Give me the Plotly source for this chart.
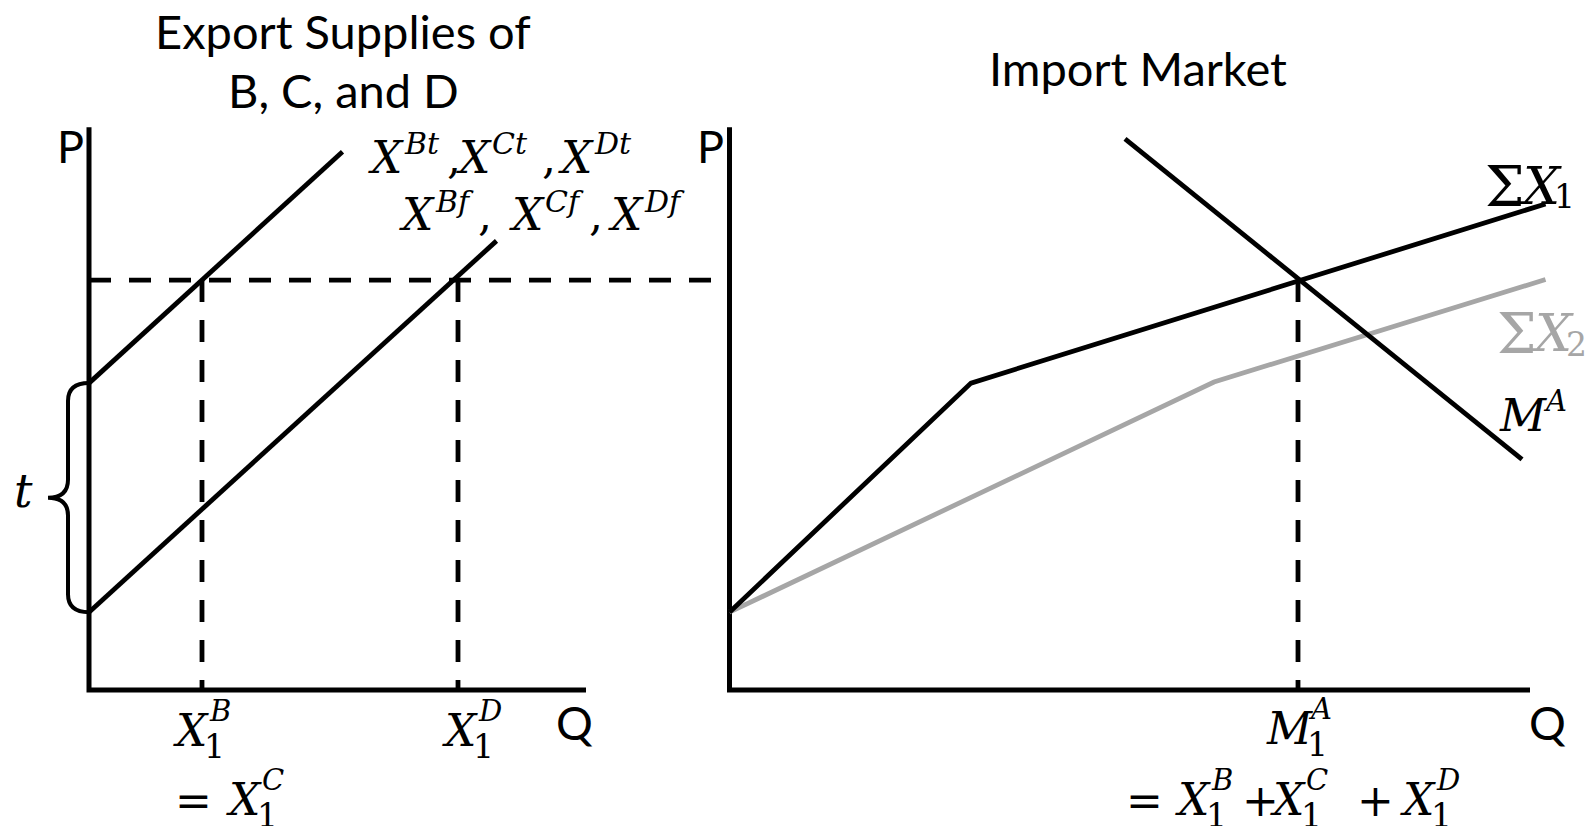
import plotly.graph_objects as go

# ---------------- data (economic units: Q horizontal, P vertical) ----------------
# Left panel: export supplies of B, C, D
upper_q = [0.0, 5.07]          # X^{Bt}, X^{Ct}, X^{Dt}  (with tariff)
upper_p = [5.48, 9.61]
lower_q = [0.0, 8.15]          # X^{Bf}, X^{Cf}, X^{Df}  (free trade)
lower_p = [1.39, 8.02]
P1 = 7.32                      # price level
XB1 = 2.26                     # X1^B = X1^C
XD1 = 7.38                     # X1^D
left_axis_q = [0.0, 0.0, 9.94]
left_axis_p = [10.05, 0.0, 0.0]

# Right panel: import market
sx1_q = [0.0, 4.83, 16.32]     # sum X1
sx1_p = [1.39, 5.48, 8.68]
sx2_q = [0.0, 9.69, 16.32]     # sum X2
sx2_p = [1.39, 5.50, 7.33]
ma_q = [7.91, 15.85]           # import demand M^A
ma_p = [9.84, 4.12]
MA1 = 11.37                    # M1^A
right_axis_q = [0.0, 0.0, 16.01]
right_axis_p = [10.05, 0.0, 0.0]

# ---------------- layout geometry ----------------
W, H = 1589, 826
ORIG_L, ORIG_R, ORIG_Y = 89.0, 729.5, 690.0     # origins in figure px
QU, PU = 50.0, 56.0

BLACK = "#000000"
GRAY = "#a6a6a6"
LW = 4.8
DASH = "22px,18px"
SANS = "Lato"
MATH = "DejaVu Serif"

fig = go.Figure()

def line(xs, ys, xa, color=BLACK, width=LW, dash=None):
    fig.add_trace(go.Scatter(x=xs, y=ys, xaxis=xa, yaxis="y", mode="lines",
                             line=dict(color=color, width=width, dash=dash),
                             hoverinfo="skip", showlegend=False))

# axes
line(left_axis_q, left_axis_p, "x", width=5)
line(right_axis_q, right_axis_p, "x2", width=5)

# dashed guides
line([XB1, XB1], [P1, 0], "x", dash=DASH)
line([XD1, XD1], [P1, 0], "x", dash=DASH)
line([MA1, MA1], [P1, 0], "x2", dash=DASH)

# supply / demand curves
line(upper_q, upper_p, "x")
line(lower_q, lower_p, "x")
line(sx2_q, sx2_p, "x2", color=GRAY)
line(sx1_q, sx1_p, "x2")
line(ma_q, ma_p, "x2")

# horizontal dashed price line spanning both panels (from left origin to right origin)
fig.add_shape(type="line", xref="paper", yref="y",
              x0=ORIG_L / W, x1=ORIG_R / W, y0=P1, y1=P1,
              line=dict(color=BLACK, width=LW, dash=DASH), layer="below")

# brace for tariff t between the two intercepts
pt, pb = upper_p[0], lower_p[0]
pm = (pt + pb) / 2
xi, xt = -0.42, -0.82
path = (f"M 0,{pt} Q {xi},{pt} {xi},{pt-0.32} L {xi},{pm+0.32} "
        f"Q {xi},{pm} {xt},{pm} Q {xi},{pm} {xi},{pm-0.32} "
        f"L {xi},{pb+0.32} Q {xi},{pb} 0,{pb}")
fig.add_shape(type="path", xref="x", yref="y", path=path,
              line=dict(color=BLACK, width=4))

# ---------------- text (positions in figure pixels) ----------------
ann = []
def txt(s, x, y, size, color=BLACK, family=MATH, anchor="left"):
    ann.append(dict(text=s, x=x / W, y=1 - y / H,
                    xref="paper", yref="paper",
                    xanchor=anchor, yanchor="middle", showarrow=False,
                    font=dict(size=size, color=color, family=family)))

def I(s):
    return f"<i>{s}</i>"

# titles and axis letters
txt("Export Supplies of", 343, 31, 47, family=SANS, anchor="center")
txt("B, C, and D", 343, 90, 47, family=SANS, anchor="center")
txt("Import Market", 1138, 68, 47, family=SANS, anchor="center")
txt("P", 70, 146, 45, family=SANS, anchor="center")
txt("P", 710, 146, 45, family=SANS, anchor="center")
txt("Q", 574, 722, 46, family=SANS, anchor="center")
txt("Q", 1547, 722, 46, family=SANS, anchor="center")

# t
txt(I("t"), 12, 491, 46)

# X^{Bt}, X^{Ct}, X^{Dt}   and   X^{Bf}, X^{Cf}, X^{Df}
BS, SS = 44, 30
for xl, sup, comma in [(366, "Bt", 445), (454, "Ct", 540), (556, "Dt", None)]:
    txt(I("X"), xl, 157, BS)
    txt(I(sup), xl + 36, 143, SS)
    if comma:
        txt(",", comma, 157, BS)
for xl, sup, comma in [(397, "Bf", 476), (507, "Cf", 587), (606, "Df", None)]:
    txt(I("X"), xl, 215, BS)
    txt(I(sup), xl + 36, 201, SS)
    if comma:
        txt(",", comma, 215, BS)

# stacked labels  base_1^sup
BB, SUP, SUB = 44, 29, 33
def stacked(base, xl, y, sup, dx_sup=36, dx_sub=31):
    txt(I(base), xl, y, BB)
    txt(I(sup), xl + dx_sup, y - 19, SUP)
    txt("1", xl + dx_sub, y + 16, SUB)

stacked("X", 171, 730, "B")
txt("=", 173, 800, BB)
stacked("X", 224, 799, "C")
stacked("X", 440, 730, "D")
stacked("M", 1264, 728, "A", dx_sup=42, dx_sub=41)
txt("=", 1124, 800, BB)
stacked("X", 1173, 799, "B")
txt("+", 1240, 800, BB)
stacked("X", 1268, 799, "C")
txt("+", 1355, 800, BB)
stacked("X", 1398, 799, "D")

# curve labels on the right
txt("Σ", 1483, 186, 56)
txt(I("X"), 1517, 186, 52)
txt("1", 1552, 197, 33)
txt("Σ", 1495, 333, 56, color=GRAY)
txt(I("X"), 1529, 333, 52, color=GRAY)
txt("2", 1564, 344, 33, color=GRAY)
txt(I("M"), 1497, 415, 45)
txt(I("A"), 1541, 401, 29)

fig.update_layout(
    width=W, height=H,
    margin=dict(l=0, r=0, t=0, b=0),
    paper_bgcolor="white", plot_bgcolor="white",
    showlegend=False,
    annotations=ann,
    xaxis=dict(domain=[0, 1], range=[-ORIG_L / QU, (W - ORIG_L) / QU],
               visible=False, anchor="y"),
    xaxis2=dict(domain=[0, 1], range=[-ORIG_R / QU, (W - ORIG_R) / QU],
                visible=False, anchor="y", overlaying="x"),
    yaxis=dict(domain=[0, 1], range=[-(H - ORIG_Y) / PU, ORIG_Y / PU],
               visible=False),
)

# remove the default page margin so the figure fills the window exactly
fig.write_html("out.html",
               config={"displayModeBar": False},
               post_script="document.body.style.margin='0';"
                           "document.body.style.overflow='hidden';")
